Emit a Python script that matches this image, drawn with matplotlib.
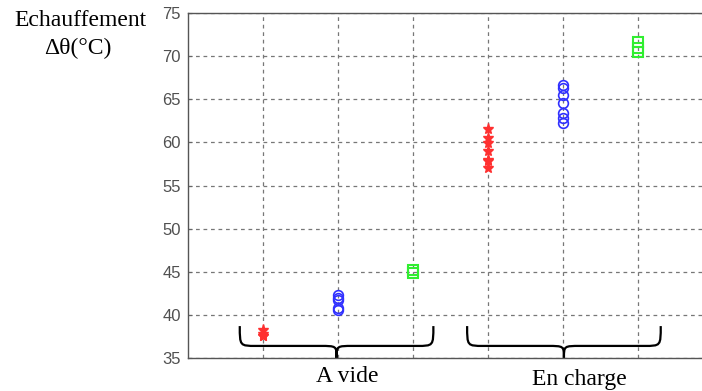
import matplotlib.pyplot as plt
import numpy as np
from matplotlib.path import Path
from matplotlib.patches import PathPatch

# measured temperature rise, one column of points per case
x_pos = [1, 2, 3, 4, 5, 6]
red_vide = [38.3, 37.8, 37.6, 37.5]
blue_vide = [42.3, 42.0, 41.7, 40.8, 40.6]
green_vide = [45.2, 44.8]
red_charge = [61.5, 60.5, 59.9, 59.0, 57.95, 57.8, 57.0]
blue_charge = [66.6, 66.3, 65.5, 64.6, 63.4, 62.8, 62.2]
green_charge = [71.6, 71.0, 70.5]

group_labels = ['A vide', 'En charge']
yticks = [35, 40, 45, 50, 55, 60, 65, 70, 75]

fig = plt.figure(figsize=(7.02, 3.91), dpi=100)
ax = fig.add_axes([188/702, 33/391, (702-188)/702, 345/391])

def column(x, vals, **kw):
    ax.plot([x]*len(vals), vals, linestyle='none', clip_on=False, **kw)

column(x_pos[0], red_vide, marker='*', color='#ff3030', markersize=8)
column(x_pos[1], blue_vide, marker='o', mfc='none', mec='#3030ff', markersize=7, mew=1.2)
column(x_pos[2], green_vide, marker='s', mfc='none', mec='#30ee30', markersize=7, mew=1.5)
column(x_pos[3], red_charge, marker='*', color='#ff3030', markersize=8)
column(x_pos[4], blue_charge, marker='o', mfc='none', mec='#3030ff', markersize=7, mew=1.2)
column(x_pos[5], green_charge, marker='s', mfc='none', mec='#30ee30', markersize=7, mew=1.5)

ax.set_xlim(0, 6.85)
ax.set_ylim(35, 75)
ax.set_xticks(x_pos)
ax.set_xticklabels([])
ax.set_yticks(yticks)
ax.set_yticklabels([str(v) for v in yticks], fontfamily='Liberation Sans', fontsize=12, color='#505050')
ax.tick_params(axis='x', length=0)
ax.tick_params(axis='y', length=3, direction='in', color='#666666', pad=5)
ax.grid(True, linestyle=(0, (3, 3)), color='#777777', linewidth=0.9)
ax.set_axisbelow(True)
for s in ['left', 'top', 'bottom']:
    ax.spines[s].set_color('#555555')
    ax.spines[s].set_linewidth(1.0)
ax.spines['right'].set_visible(False)

# curly braces under each group
def brace(x0, x1, ytop, ymid, ybot):
    xc = (x0 + x1) / 2
    r = 0.22
    verts = [(x0, ytop), (x0, ymid), (x0, ymid), (x0 + r, ymid),
             (xc - r, ymid),
             (xc, ymid), (xc, ymid), (xc, ybot),
             (xc, ymid), (xc, ymid), (xc + r, ymid),
             (x1 - r, ymid),
             (x1, ymid), (x1, ymid), (x1, ytop)]
    codes = [Path.MOVETO, Path.CURVE4, Path.CURVE4, Path.CURVE4,
             Path.LINETO,
             Path.CURVE4, Path.CURVE4, Path.CURVE4,
             Path.CURVE4, Path.CURVE4, Path.CURVE4,
             Path.LINETO,
             Path.CURVE4, Path.CURVE4, Path.CURVE4]
    ax.add_patch(PathPatch(Path(verts, codes), fill=False, lw=1.6, color='black', clip_on=False))

brace(0.69, 3.27, 38.7, 36.4, 35.0)
brace(3.72, 6.3, 38.7, 36.4, 35.0)

serif = dict(ha='center', va='center', fontfamily='Liberation Serif', fontsize=17)
fig.text(347/702, 1 - 377/391, group_labels[0], **serif)
fig.text(579/702, 1 - 380/391, group_labels[1], **serif)

fig.text(80/702, 1 - 20/391, 'Echauffement', **serif)
fig.text(78/702, 1 - 48/391, '\u0394\u03b8(°C)', **serif)

fig.savefig('out.png', dpi=100)
